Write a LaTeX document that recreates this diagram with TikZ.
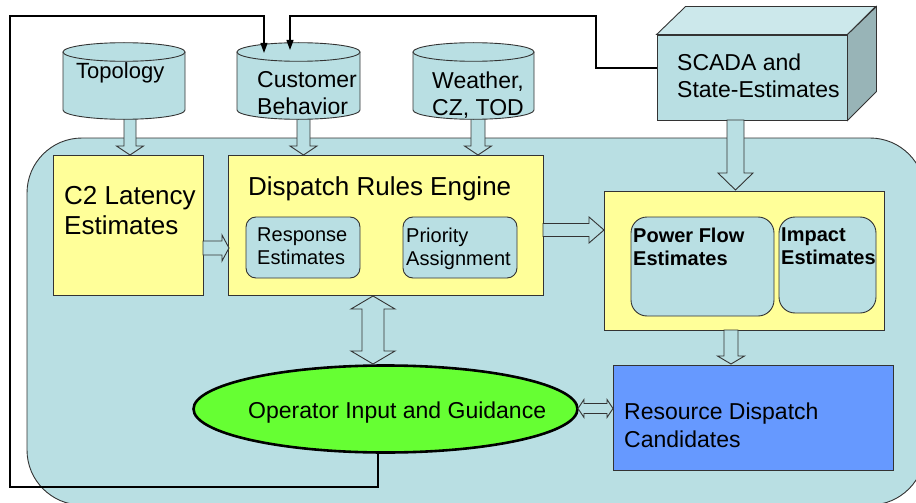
\documentclass[tikz,border=0pt]{standalone}
\usepackage{fontspec}
\setmainfont{Liberation Sans}
\usetikzlibrary{shapes.geometric,arrows.meta}

\definecolor{paleblue}{HTML}{B9DFE3}
\definecolor{boxtop}{HTML}{CCE8EB}
\definecolor{boxside}{HTML}{98B4B7}
\definecolor{paleyellow}{HTML}{FFFF99}
\definecolor{opgreen}{HTML}{66FF33}
\definecolor{dispblue}{HTML}{6699FF}
\definecolor{rim}{HTML}{333333}

\newcommand\fsz[2]{\fontsize{#1}{#2}\selectfont}

% hollow block arrows: centre, start, tip, shaft half width, head half width, head length
\newcommand\blkdown[6]{%
  \filldraw[blockarrow] (#1-#4,#2) -- (#1-#4,#3-#6) -- (#1-#5,#3-#6) -- (#1,#3)
    -- (#1+#5,#3-#6) -- (#1+#4,#3-#6) -- (#1+#4,#2) -- cycle;}
\newcommand\blkright[6]{%
  \filldraw[blockarrow] (#2,#1-#4) -- (#3-#6,#1-#4) -- (#3-#6,#1-#5) -- (#3,#1)
    -- (#3-#6,#1+#5) -- (#3-#6,#1+#4) -- (#2,#1+#4) -- cycle;}
\newcommand\blkvert[6]{%
  \filldraw[blockarrow] (#1,#2) -- (#1+#5,#2+#6) -- (#1+#4,#2+#6) -- (#1+#4,#3-#6)
    -- (#1+#5,#3-#6) -- (#1,#3) -- (#1-#5,#3-#6) -- (#1-#4,#3-#6) -- (#1-#4,#2+#6)
    -- (#1-#5,#2+#6) -- cycle;}
\newcommand\blkhoriz[6]{%
  \filldraw[blockarrow] (#2,#1) -- (#2+#6,#1-#5) -- (#2+#6,#1-#4) -- (#3-#6,#1-#4)
    -- (#3-#6,#1-#5) -- (#3,#1) -- (#3-#6,#1+#5) -- (#3-#6,#1+#4) -- (#2+#6,#1+#4)
    -- (#2+#6,#1+#5) -- cycle;}
% database cylinder: left x, right x, top centre y, bottom centre y
\newcommand\dbcyl[4]{%
  \filldraw[cylpart] (#1,#3) -- (#1,#4)
    arc[start angle=180,end angle=0,x radius={(#2-#1)/2},y radius=9.3] -- (#2,#3);
  \filldraw[cylpart] ({(#1+#2)/2},#3) ellipse[x radius={(#2-#1)/2},y radius=9.3];}

\begin{document}
\begin{tikzpicture}[x=1pt,y=-1pt,
  blockarrow/.style={fill=paleblue,draw=rim,line width=0.9pt,line join=miter},
  cylpart/.style={fill=paleblue,draw=rim,line width=0.9pt},
  ybox/.style={rectangle,fill=paleyellow,draw=rim,line width=0.9pt,inner sep=0},
  subbox/.style={rectangle,fill=paleblue,draw=rim,line width=0.9pt,inner sep=0},
  lbl/.style={inner sep=0,anchor=north west,align=left},
  feed/.style={draw=black,line width=1.2pt,-{Triangle[length=10pt,width=7pt]}}]
\useasboundingbox (0,0) rectangle (916,503);

% shared processing area
\filldraw[fill=paleblue,draw=rim,line width=0.9pt,rounded corners=55pt]
  (27,138) rectangle (925,505);

% SCADA store, drawn as a solid block
\node[rectangle,fill=paleblue,draw=rim,line width=0.9pt,inner sep=0,
  minimum width=190,minimum height=85] (scada) at (752,77.5) {};
\filldraw[fill=boxtop,draw=rim,line width=0.9pt,line join=miter]
  (scada.north west) -- ++(29,-28) -- ++(190,0) -- (scada.north east) -- cycle;
\filldraw[fill=boxside,draw=rim,line width=0.9pt,line join=miter]
  (scada.north east) -- ++(29,-28) -- ++(0,85) -- (scada.south east) -- cycle;

% arrows out of the stores
\blkdown{130}{112}{155}{6}{13.5}{9}
\blkdown{303.5}{112}{155}{6.5}{13.5}{9}
\blkdown{478}{112}{155}{7}{13.5}{9}
\blkdown{735.5}{120}{190}{8.5}{17.5}{17}

% data stores
\dbcyl{63}{185}{52}{110}
\dbcyl{237}{360}{52}{110}
\dbcyl{413}{534}{52}{110}

% feedback wires into the customer behaviour store
\coordinate (custinA) at (264,53);
\coordinate (custinB) at (290,50);
\coordinate (opfoot) at (378,452);
\draw[feed] (opfoot) -- (378,487) -- (10,487) -- (10,16) -- (264,16) -- (custinA);
\draw[feed] (scada.west |- 0,68) -- (596,68) -- (596,16) -- (290,16) -- (custinB);

\node[inner sep=0,anchor=base west,font=\fsz{22}{26}] (topo) at (76,79) {Topology};
\node[lbl,font=\fsz{23}{27}] (cust) at (257,71.5) {Customer\\Behavior};
\node[lbl,font=\fsz{23}{27}] (weath) at (432,71.5) {Weather,\\CZ, TOD};
\node[lbl,font=\fsz{23}{27}] (scadat) at (677,53.5) {SCADA and\\State-Estimates};

% processing blocks
\node[ybox,minimum width=150,minimum height=140] (c2) at (128,225) {};
\node[ybox,minimum width=315,minimum height=140] (dre) at (385.5,225) {};
\node[subbox,rounded corners=10pt,minimum width=114,minimum height=61] (resp) at (303,247.5) {};
\node[subbox,rounded corners=10pt,minimum width=114,minimum height=61] (prio) at (460,247.5) {};
\node[ybox,minimum width=280,minimum height=139] (flowbox) at (744,260.5) {};
\node[subbox,rounded corners=16pt,minimum width=143,minimum height=99] (pf) at (702.5,266.5) {};
\node[subbox,rounded corners=16pt,minimum width=97,minimum height=96] (imp) at (827.5,265) {};
\node[rectangle,fill=dispblue,draw=rim,line width=0.9pt,inner sep=0,
  minimum width=280,minimum height=105] (rdc) at (753,417.5) {};
\node[ellipse,fill=opgreen,draw=black,line width=2.6pt,inner sep=0,
  minimum width=384,minimum height=87] (op) at (385.5,409) {};

\node[lbl,font=\fsz{26}{30}] (c2t) at (64,186) {C2 Latency\\Estimates};
\node[lbl,font=\fsz{26}{30}] (dret) at (248,176) {Dispatch Rules Engine};
\node[lbl,font=\fsz{20}{23}] (respt) at (257,228) {Response\\Estimates};
\node[lbl,font=\fsz{20}{23}] (priot) at (406,228) {Priority\\Assignment};
\node[lbl,font=\fsz{20}{23}\bfseries] (pft) at (633,227.5) {Power Flow\\Estimates};
\node[lbl,font=\fsz{20}{23}\bfseries] (impt) at (781,227.5) {Impact\\Estimates};
\node[inner sep=0,anchor=base west,font=\fsz{23}{27}] (opt) at (248,418) {Operator Input and Guidance};
\node[lbl,font=\fsz{23}{28}] (rdct) at (624,402.5) {Resource Dispatch\\Candidates};

% flows between blocks
\blkright{248}{203}{229}{7}{13}{7}
\blkright{230}{543}{604}{6.5}{13}{15}
\blkdown{731}{330}{364}{7}{13.5}{8}
\blkvert{373}{296}{364}{11}{22}{13}
\blkhoriz{408.5}{578}{613}{5}{9}{6}
\end{tikzpicture}
\end{document}
